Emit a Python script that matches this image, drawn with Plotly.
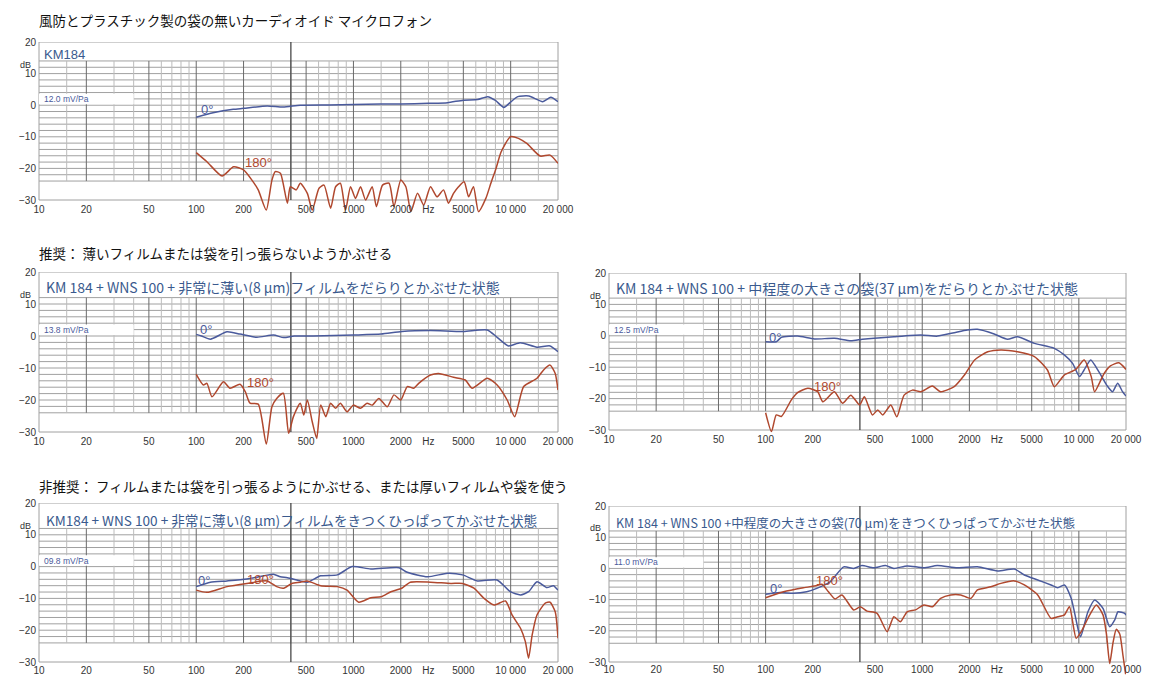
import numpy as np
import plotly.graph_objects as go

# ---------------- data ----------------
# Panel 1: KM184 without windscreen
T_F0 = [100, 128, 172, 200, 283, 357, 459, 700, 1000, 1486, 2000, 3000, 3970, 5000, 6170, 7140, 8000, 9050, 10000, 11090, 13050, 16000, 18000, 20000]
T_0 = [-3.8, -2.4, -1.3, -1.0, -0.25, -0.6, 0.0, 0.1, 0.2, 0.4, 0.4, 0.6, 0.8, 1.6, 1.8, 2.7, 1.5, -0.7, 1.0, 2.7, 2.9, 1.1, 2.5, 1.1]
T_F180 = [100, 117, 146, 173, 200, 226, 248, 279, 303, 318, 343, 380, 397, 433, 459, 509, 547, 604, 650, 716, 770, 826, 890, 958, 1030, 1110, 1195, 1315, 1400, 1530, 1685, 1810, 2000, 2155, 2320, 2555, 2800, 3090, 3400, 3740, 4020, 4330, 4660, 5060, 5400, 5800, 6240, 6950, 7480, 8070, 8690, 9950, 11200, 12660, 15400, 17800, 20000]
T_180 = [-15.0, -17.9, -22.4, -19.5, -20.5, -23.7, -26.8, -33.2, -23.7, -21.0, -21.5, -31.0, -25.8, -26.8, -24.7, -27.9, -33.2, -26.3, -25.3, -32.6, -25.8, -24.7, -33.2, -25.8, -29.5, -25.8, -30.0, -25.8, -32.1, -25.3, -24.7, -32.1, -23.7, -25.8, -33.7, -27.9, -31.6, -25.8, -29.0, -26.8, -31.0, -27.9, -25.8, -24.2, -29.0, -25.8, -33.7, -29.5, -24.7, -20.0, -14.8, -10.0, -10.5, -12.1, -16.1, -15.8, -18.4]

# Panel 2: thin film, loose
ML_F0 = [100, 108, 123, 157, 190, 243, 310, 360, 420, 556, 1000, 1500, 2030, 3090, 5000, 7100, 8200, 9700, 11500, 14700, 17800, 20000]
ML_0 = [0.5, 0.0, -1.0, 1.3, 0.6, -0.4, 0.3, -0.5, 0.0, 0.0, 0.3, 0.6, 1.4, 1.7, 1.4, 1.9, -0.4, -3.1, -2.1, -3.5, -3.1, -4.9]
ML_F180 = [100, 111, 117, 126, 149, 164, 190, 205, 220, 248, 279, 303, 325, 358, 387, 415, 459, 483, 509, 547, 584, 619, 667, 716, 770, 826, 910, 1000, 1110, 1220, 1315, 1450, 1640, 1810, 2000, 2200, 2420, 2600, 3090, 3480, 4330, 5140, 5680, 7100, 8200, 9500, 10600, 12100, 14700, 16200, 17800, 19200, 20000]
ML_180 = [-12.0, -15.3, -14.8, -19.0, -14.3, -16.3, -15.1, -17.4, -21.0, -21.3, -33.8, -22.1, -19.5, -17.9, -30.4, -25.2, -21.0, -24.7, -20.0, -26.8, -32.0, -21.6, -25.2, -21.0, -22.6, -21.0, -23.7, -21.6, -22.6, -21.0, -21.6, -19.5, -22.1, -18.4, -20.0, -15.8, -16.3, -14.8, -12.2, -11.7, -12.9, -13.75, -16.3, -13.2, -15.3, -20.0, -25.2, -15.8, -13.2, -10.6, -9.1, -11.7, -16.9]

# Panel 3: medium bag 37 um, loose
MR_F0 = [100, 117, 126, 160, 205, 275, 350, 415, 494, 660, 980, 1250, 1600, 1940, 2250, 2880, 3500, 4060, 5200, 6970, 8070, 9120, 10100, 10800, 11900, 13400, 15200, 16400, 17700, 19000, 20000]
MR_0 = [-1.9, -1.9, -0.5, -0.1, -1.0, -0.8, -1.6, -1.1, -0.8, -0.3, 0.25, -0.1, 1.0, 1.85, 2.1, 0.6, -1.1, -0.3, -2.4, -4.0, -6.1, -8.8, -13.0, -10.9, -7.7, -11.4, -16.0, -17.8, -15.1, -17.8, -19.2]
MR_F180 = [100, 109, 117, 126, 146, 160, 186, 215, 232, 275, 310, 350, 398, 427, 481, 520, 560, 630, 688, 766, 866, 980, 1160, 1310, 1600, 1860, 2160, 2620, 3180, 4060, 5200, 6300, 6970, 8070, 9570, 10800, 12000, 12600, 14500, 15900, 18000, 20000]
MR_180 = [-24.5, -30.5, -25.2, -25.7, -20.4, -18.1, -16.7, -17.8, -21.0, -17.8, -21.5, -18.9, -22.0, -19.4, -25.2, -23.6, -25.2, -22.0, -25.8, -18.9, -17.3, -17.8, -16.0, -17.8, -16.2, -12.5, -7.7, -5.1, -4.5, -5.1, -6.6, -10.9, -16.2, -12.5, -10.7, -7.7, -13.0, -17.8, -12.0, -9.6, -8.6, -10.7]

# Panel 4: thin film, stretched
BL_F0 = [100, 123, 157, 210, 268, 310, 343, 380, 459, 509, 619, 790, 980, 1290, 1950, 2200, 2960, 3970, 4940, 6140, 8200, 9950, 11550, 13000, 14700, 17000, 18700, 20000]
BL_0 = [-6.3, -4.9, -4.5, -3.9, -2.9, -2.4, -3.2, -3.5, -4.5, -4.9, -2.9, -2.6, 0.0, -0.75, -0.35, -1.8, -3.2, -2.1, -2.6, -4.5, -4.2, -7.9, -8.9, -7.9, -4.75, -6.6, -6.0, -7.4]
BL_F180 = [100, 117, 157, 210, 282, 325, 360, 405, 459, 509, 619, 790, 910, 1080, 1290, 1500, 1730, 2030, 2300, 3090, 4170, 4940, 5840, 6770, 7840, 9270, 10200, 11550, 12400, 13000, 13700, 14700, 16600, 17800, 19200, 20000]
BL_180 = [-7.4, -8.1, -6.3, -5.3, -4.5, -6.3, -6.8, -5.3, -4.9, -4.5, -6.0, -6.3, -7.4, -11.2, -9.8, -9.5, -7.9, -6.8, -4.9, -4.9, -5.3, -5.3, -6.8, -10.0, -12.1, -10.8, -15.2, -19.4, -23.6, -28.8, -21.5, -15.2, -11.5, -11.2, -14.2, -22.5]

# Panel 5: medium bag 70 um, stretched
BR_F0 = [100, 123, 150, 183, 212, 258, 315, 365, 412, 490, 582, 659, 801, 1025, 1248, 1676, 2252, 3027, 3872, 4487, 5460, 6640, 7330, 8090, 8930, 9860, 10260, 11430, 12620, 14260, 15740, 16950, 17800, 19630, 20000]
BR_0 = [-8.3, -7.7, -8.0, -7.5, -6.4, -4.3, 0.5, 0.0, 0.9, 0.2, 0.9, 0.0, 0.8, 0.2, 0.9, 0.2, 0.5, -0.8, -0.2, -2.1, -3.7, -5.3, -6.2, -5.3, -9.6, -19.2, -21.9, -13.9, -10.1, -12.8, -18.7, -16.5, -13.9, -14.4, -15.0]
BR_F180 = [100, 130, 174, 212, 229, 252, 278, 307, 365, 402, 444, 515, 597, 659, 726, 801, 906, 1025, 1159, 1310, 1518, 1760, 2040, 2252, 2742, 3178, 3872, 4487, 5460, 6640, 7330, 8090, 8710, 9610, 10350, 11430, 12920, 14260, 15000, 15740, 16500, 17340, 18240, 19140, 19900]
BR_180 = [-9.4, -7.5, -6.2, -5.5, -5.1, -7.5, -9.8, -8.5, -13.3, -12.3, -13.7, -14.4, -20.3, -15.5, -17.1, -13.9, -13.3, -11.7, -12.3, -9.6, -8.5, -8.5, -9.6, -6.9, -5.9, -4.8, -4.0, -5.3, -8.5, -16.0, -15.5, -14.9, -12.3, -22.4, -20.3, -16.0, -11.7, -14.9, -21.0, -30.5, -24.0, -19.5, -21.0, -28.0, -34.0]

SECTION_TITLES = [
    "風防とプラスチック製の袋の無いカーディオイド マイクロフォン",
    "推奨： 薄いフィルムまたは袋を引っ張らないようかぶせる",
    "非推奨： フィルムまたは袋を引っ張るようにかぶせる、または厚いフィルムや袋を使う",
]
PANEL_LABELS = [
    "KM184",
    "KM 184 + WNS 100 + 非常に薄い(8 µm)フィルムをだらりとかぶせた状態",
    "KM 184 + WNS 100 + 中程度の大きさの袋(37 µm)をだらりとかぶせた状態",
    "KM184 + WNS 100 + 非常に薄い(8 µm)フィルムをきつくひっぱってかぶせた状態",
    "KM 184 + WNS 100 +中程度の大きさの袋(70 µm)をきつくひっぱってかぶせた状態",
]
SENSITIVITY = ["12.0 mV/Pa", "13.8 mV/Pa", "12.5 mV/Pa", "09.8 mV/Pa", "11.0 mV/Pa"]
X_TICKS = [10, 20, 50, 100, 200, 500, 1000, 2000, 3000, 5000, 10000, 20000]
X_TICKTEXT = ["10", "20", "50", "100", "200", "500", "1000", "2000", "Hz", "5000", "10 000", "20 000"]
Y_TICKS = [-30, -20, -10, 0, 10, 20]
Y_TICKTEXT = ["−30", "−20", "−10", "0", "10", "20"]

CURVES = [
    (T_F0, T_0, T_F180, T_180),
    (ML_F0, ML_0, ML_F180, ML_180),
    (MR_F0, MR_0, MR_F180, MR_180),
    (BL_F0, BL_0, BL_F180, BL_180),
    (BR_F0, BR_0, BR_F180, BR_180),
]
# curve-label anchor positions (Hz, dB)
LBL0 = [(117, -1.5), (115, 1.9), (115, -0.4), (112, -4.4), (116, -6.5)]
LBL180 = [(250, -18.2), (255, -14.6), (248, -16.2), (255, -3.9), (254, -4.0)]

# ---------------- geometry ----------------
SW, SH = 1151, 675          # target picture size
OFF = 8                     # default page (body) margin
W, H = SW - 2 * OFF, SH - OFF
# screen px: left (10 Hz), right (20 kHz), top (20 dB), -30 dB line, grid top dB,
# x label standoff, panel-label font size
PANELS = [
    (39, 558, 42, 200, 14, -11, 13),
    (39, 558, 272, 432, 12, -11, 14),
    (609, 1126, 273, 430, 12, -11, 14),
    (39, 558, 503, 662, 12, -12, 13.6),
    (609, 1126, 506, 662, 12, -12, 12.5),
]
YMIN, YMAX = -34, 20


def fx(px):
    return (px - OFF) / W


def fy(py):
    return 1 - (py - OFF) / H


BLUE = "#4a5a9c"
RED = "#b0482e"
LBLUE = "#3a5a8e"
TICKFONT = dict(family="Liberation Sans, Arial", size=10, color="#333333")
JP = "Noto Sans CJK JP"

fig = go.Figure()
shapes = []
annotations = []
layout = {}

for i, (px0, px1, ptop, pm30, gtop, stand, lsize) in enumerate(PANELS):
    sx = "" if i == 0 else str(i + 1)
    xa, ya = "x" + sx, "y" + sx
    ppd = (pm30 - ptop) / 50.0
    pbot = pm30 + (-30 - YMIN) * ppd
    ydom = [max(0.0, fy(pbot)), min(1.0, fy(ptop))]
    xdom = [fx(px0), fx(px1)]
    layout["xaxis" + sx] = dict(
        type="log", domain=xdom, range=[1, np.log10(20000)], anchor=ya,
        showgrid=False, zeroline=False, showline=False, ticks="",
        tickvals=X_TICKS, ticktext=X_TICKTEXT, tickfont=TICKFONT,
        ticklabelstandoff=int(stand), ticklabeloverflow="allow", automargin=False,
    )
    layout["yaxis" + sx] = dict(
        domain=ydom, range=[YMIN, YMAX], anchor=xa,
        showgrid=False, zeroline=False, showline=False, ticks="",
        tickvals=Y_TICKS, ticktext=Y_TICKTEXT, tickfont=TICKFONT, automargin=False,
        ticklabelstandoff=2,
    )
    xd = xa + " domain"
    # horizontal grid
    for v in range(-24, gtop + 1, 2):
        shapes.append(dict(type="line", xref=xd, yref=ya, x0=0, x1=1, y0=v, y1=v,
                           line=dict(color="#a0a0a0", width=1), layer="below"))
    # vertical grid
    for dec in [10, 100, 1000, 10000]:
        for m in [1, 1.5, 2, 3, 4, 5, 6, 7, 8, 9]:
            f = dec * m
            if f <= 10 or f >= 20000:
                continue
            dark = m in (1, 2, 5)
            shapes.append(dict(type="line", xref=xa, yref=ya, x0=f, x1=f, y0=-24, y1=gtop,
                               line=dict(color="#6a6a6a" if dark else "#bcbcbc", width=1),
                               layer="below"))
    # sensitivity box
    shapes.append(dict(type="rect", xref=xa, yref=ya, x0=10, x1=40, y0=0.3, y1=3.6,
                       fillcolor="white", line=dict(width=0), layer="below"))
    # splice line of the scanned chart
    shapes.append(dict(type="line", xref=xa, yref=ya, x0=400, x1=400, y0=-30, y1=20,
                       line=dict(color="#3a3a3a", width=1.2), layer="below"))
    # frame
    shapes.append(dict(type="rect", xref=xd, yref=ya, x0=0, x1=1, y0=-30, y1=20,
                       line=dict(color="#a0a0a0", width=1), layer="below"))

    f0, d0, f180, d180 = CURVES[i]
    fig.add_trace(go.Scatter(x=f0, y=d0, mode="lines", xaxis=xa, yaxis=ya,
                             line=dict(color=BLUE, width=1.5, shape="spline", smoothing=0.6),
                             hoverinfo="skip", showlegend=False))
    fig.add_trace(go.Scatter(x=f180, y=d180, mode="lines", xaxis=xa, yaxis=ya,
                             line=dict(color=RED, width=1.5, shape="spline", smoothing=0.6),
                             hoverinfo="skip", showlegend=False))

    # texts
    annotations.append(dict(text="dB", xref=xd, yref=ya, x=-0.012, y=12.8, xanchor="right",
                            yanchor="middle", showarrow=False,
                            font=dict(family="Liberation Sans, Arial", size=9, color="#333")))
    if i == 0:
        annotations.append(dict(text=PANEL_LABELS[i], xref=xd, yref=ya, x=0.005, y=15.9,
                                xanchor="left", yanchor="middle", showarrow=False,
                                font=dict(family="Liberation Sans, Arial", size=lsize, color=LBLUE)))
    else:
        annotations.append(dict(text=PANEL_LABELS[i], xref=xd, yref=ya, x=0.01,
                                y=15.2 if i < 3 else 14.8,
                                xanchor="left", yanchor="middle", showarrow=False,
                                font=dict(family=JP, size=lsize, color=LBLUE)))
    annotations.append(dict(text=SENSITIVITY[i], xref=xd, yref=ya, x=0.006, y=1.9,
                            xanchor="left", yanchor="middle", showarrow=False,
                            font=dict(family="Liberation Sans, Arial", size=8.5, color=BLUE)))
    annotations.append(dict(text="0°", xref=xa, yref=ya, x=np.log10(LBL0[i][0]), y=LBL0[i][1],
                            xanchor="center", yanchor="middle", showarrow=False,
                            font=dict(family="Liberation Sans, Arial", size=13, color=BLUE)))
    annotations.append(dict(text="180°", xref=xa, yref=ya, x=np.log10(LBL180[i][0]), y=LBL180[i][1],
                            xanchor="center", yanchor="middle", showarrow=False,
                            font=dict(family="Liberation Sans, Arial", size=13, color=RED)))

for t, ypx in zip(SECTION_TITLES, [20, 253, 486]):
    annotations.append(dict(text=t, xref="paper", yref="paper", x=fx(37), y=fy(ypx),
                            xanchor="left", yanchor="middle", showarrow=False,
                            font=dict(family=JP, size=13.5, color="#111111")))

fig.update_layout(**layout)
fig.update_layout(
    width=W, height=H, autosize=False,
    margin=dict(l=0, r=0, t=0, b=0),
    paper_bgcolor="white", plot_bgcolor="white",
    shapes=shapes, annotations=annotations, showlegend=False,
)
fig.write_html("out.html")
